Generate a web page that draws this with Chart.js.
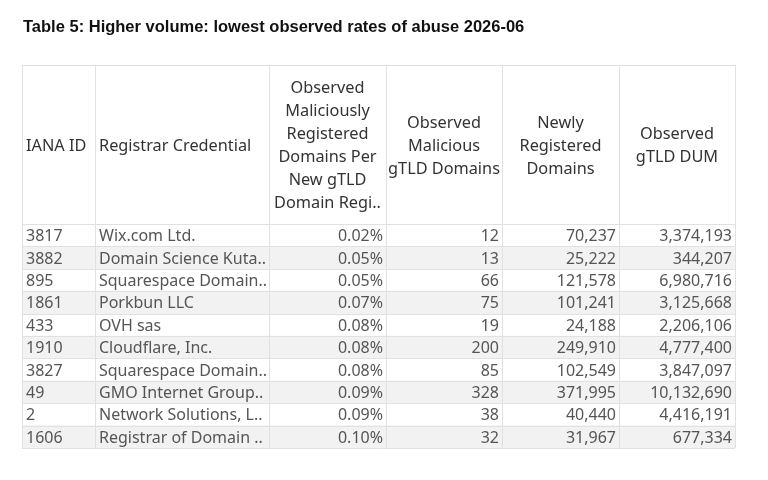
<!DOCTYPE html>
<html>
<head>
<meta charset="utf-8">
<script src="https://cdn.jsdelivr.net/npm/chart.js@4"></script>
<style>
  html, body { margin: 0; padding: 0; background: #fff; }
  #wrap { width: 768px; height: 480px; position: relative; }
</style>
</head>
<body>
<div id="wrap"><canvas id="tableChart"></canvas></div>
<script>
// Table data
const titleText = 'Table 5: Higher volume: lowest observed rates of abuse 2026-06';
const headers = [
    ['IANA ID'],
    ['Registrar Credential'],
    ['Observed', 'Maliciously', 'Registered', 'Domains Per', 'New gTLD', 'Domain Regi..'],
    ['Observed', 'Malicious', 'gTLD Domains'],
    ['Newly', 'Registered', 'Domains'],
    ['Observed', 'gTLD DUM']
];
const ianaIds = ['3817', '3882', '895', '1861', '433', '1910', '3827', '49', '2', '1606'];
const registrars = ['Wix.com Ltd.', 'Domain Science Kuta..', 'Squarespace Domain..', 'Porkbun LLC', 'OVH sas',
    'Cloudflare, Inc.', 'Squarespace Domain..', 'GMO Internet Group..', 'Network Solutions, L..', 'Registrar of Domain ..'];
const abuseRates = [0.02, 0.05, 0.05, 0.07, 0.08, 0.08, 0.08, 0.09, 0.09, 0.10]; // percent
const maliciousDomains = [12, 13, 66, 75, 19, 200, 85, 328, 38, 32];
const newlyRegistered = [70237, 25222, 121578, 101241, 24188, 249910, 102549, 371995, 40440, 31967];
const observedDum = [3374193, 344207, 6980716, 3125668, 2206106, 4777400, 3847097, 10132690, 4416191, 677334];

// Column layout (share of table width) and alignment
const colWidths = [73, 174, 117, 116, 117, 116];
const colAlign = ['left', 'left', 'right', 'right', 'right', 'right'];
const totalWidth = colWidths.reduce((a, b) => a + b, 0);
const colEdges = [0];
colWidths.forEach(w => colEdges.push(colEdges[colEdges.length - 1] + w / totalWidth));

const fmt = n => n.toLocaleString('en-US');
const cellText = (col, i) => {
    if (col === 0) return ianaIds[i];
    if (col === 1) return registrars[i];
    if (col === 2) return abuseRates[i].toFixed(2) + '%';
    if (col === 3) return fmt(maliciousDomains[i]);
    if (col === 4) return fmt(newlyRegistered[i]);
    return fmt(observedDum[i]);
};

const FONT = '"Noto Sans", "Open Sans", sans-serif';
const HEADER_TOP = 65;

// Plugin that writes the title, header and cell text on the scales
const tablePlugin = {
    id: 'tablePlugin',
    afterDatasetsDraw(chart) {
        const ctx = chart.ctx;
        const xs = chart.scales.x;
        const ys = chart.scales.y;
        const area = chart.chartArea;
        const rowH = Math.abs(ys.getPixelForValue(1) - ys.getPixelForValue(0));
        const colX = colEdges.map(e => xs.getPixelForValue(e));

        ctx.save();
        // title
        ctx.fillStyle = '#111';
        ctx.font = 'bold 16.5px "Liberation Sans", Arial, sans-serif';
        ctx.textBaseline = 'middle';
        ctx.textAlign = 'left';
        ctx.fillText(titleText, area.left + 1, 27);

        // grid lines
        ctx.strokeStyle = '#e1e1e1';
        ctx.lineWidth = 1;
        ctx.beginPath();
        ctx.moveTo(area.left, HEADER_TOP + 0.5);
        ctx.lineTo(area.right, HEADER_TOP + 0.5);
        for (let r = 0; r <= ianaIds.length; r++) {
            const y = Math.round(area.top + r * rowH) + 0.5;
            ctx.moveTo(area.left, y);
            ctx.lineTo(area.right, y);
        }
        colX.forEach(x => {
            const px = Math.round(x) + 0.5;
            ctx.moveTo(px, HEADER_TOP);
            ctx.lineTo(px, area.bottom);
        });
        ctx.stroke();

        // header text
        const headMid = (HEADER_TOP + area.top) / 2 + 1.5;
        const lineH = 23;
        ctx.fillStyle = '#333';
        ctx.font = '16.3px ' + FONT;
        headers.forEach((lines, c) => {
            const startY = headMid - (lines.length - 1) * lineH / 2;
            lines.forEach((ln, k) => {
                if (c < 2) {
                    ctx.textAlign = 'left';
                    ctx.fillText(ln, colX[c] + 4, startY + k * lineH);
                } else {
                    ctx.textAlign = 'center';
                    ctx.fillText(ln, (colX[c] + colX[c + 1]) / 2, startY + k * lineH);
                }
            });
        });

        // body cells
        ctx.fillStyle = '#555';
        ctx.font = '16px ' + FONT;
        ianaIds.forEach((id, i) => {
            const y = ys.getPixelForValue(i) + 1.5;
            for (let c = 0; c < colWidths.length; c++) {
                ctx.textAlign = colAlign[c];
                const x = colAlign[c] === 'left' ? colX[c] + 4 : colX[c + 1] - 3;
                ctx.fillText(cellText(c, i), x, y);
            }
        });
        ctx.restore();
    }
};

// Shaded bands for every second row
const bandData = ianaIds.map((id, i) => (i % 2 === 1 ? [0, 1] : null));

new Chart(document.getElementById('tableChart'), {
    type: 'bar',
    data: {
        labels: ianaIds,
        datasets: [{
            data: bandData,
            backgroundColor: '#f2f2f2',
            barPercentage: 1,
            categoryPercentage: 1,
            borderWidth: 0
        }]
    },
    options: {
        indexAxis: 'y',
        responsive: true,
        maintainAspectRatio: false,
        animation: false,
        layout: { padding: { left: 22, right: 33, top: 224, bottom: 32 } },
        scales: {
            x: { type: 'linear', min: 0, max: 1, display: false },
            y: { type: 'category', display: false }
        },
        plugins: {
            legend: { display: false },
            tooltip: { enabled: false },
            title: { display: false }
        }
    },
    plugins: [tablePlugin]
});
</script>
</body>
</html>
